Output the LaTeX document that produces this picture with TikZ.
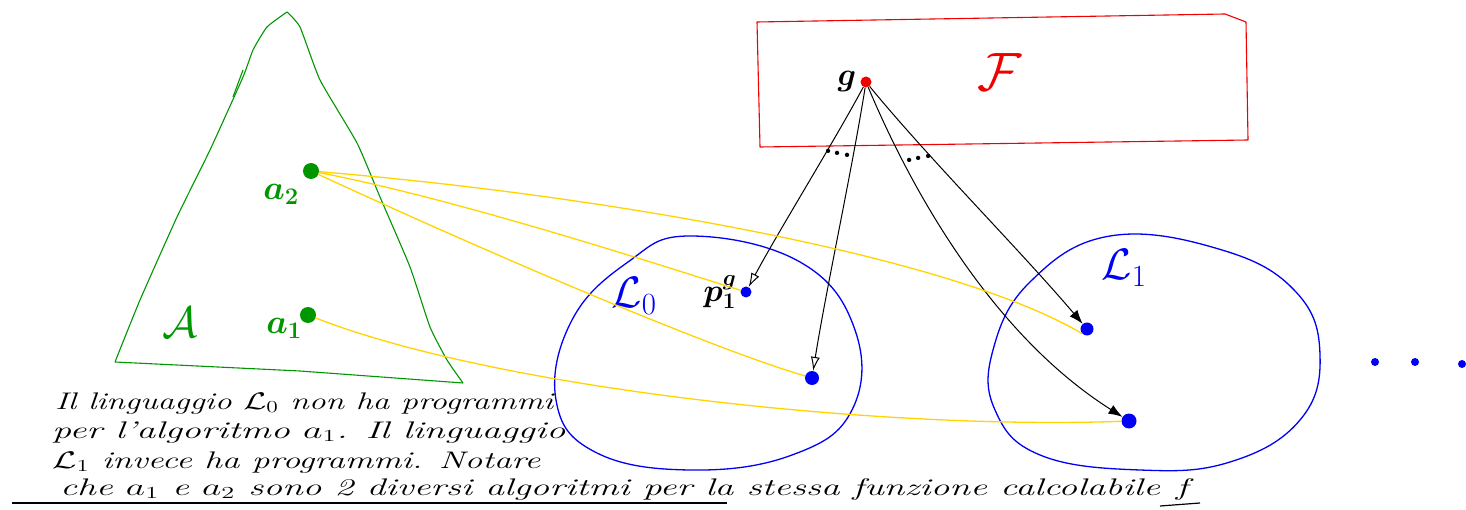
\documentclass[tikz,border=0pt]{standalone}
\usepackage{fix-cm}
\usepackage{amsmath}
\usepackage{graphicx}
\usetikzlibrary{
  arrows.meta,
  calc
}
\definecolor{algcolor}{RGB}{0, 150, 0}
\definecolor{funcolor}{RGB}{240, 0, 0}
\definecolor{langcolor}{RGB}{0, 0, 245}
\definecolor{mapcolor}{RGB}{255, 212, 0}
\newcommand{\handline}[2]{\resizebox{#1}{\height}{#2}}
\tikzset{
handtext/.style={
  font=\fontsize{24}{26}\selectfont\itshape,
  anchor=base west,
  inner sep=0pt
},
algdot/.style={
  circle,
  fill=algcolor,
  inner sep=0pt,
  minimum size=16pt
},
progdot/.style={
  circle,
  fill=langcolor,
  inner sep=0pt,
  minimum size=13pt
},
fundot/.style={
  circle,
  fill=funcolor,
  inner sep=0pt,
  minimum size=11pt
},
alglabel/.style={
  text=algcolor,
  font=\fontsize{34}{34}\selectfont\boldmath
},
biglabel/.style={
  font=\fontsize{44}{44}\selectfont
},
blacklabel/.style={
  font=\fontsize{32}{32}\selectfont\boldmath
},
setline/.style={
  draw=algcolor,
  line width=1.1pt,
  line join=round
},
langline/.style={
  draw=langcolor,
  line width=1.3pt
},
mapline/.style={
  draw=mapcolor,
  line width=1.3pt
},
progarrow/.style={
  -{Latex[open,length=14pt,width=9pt]},
  line width=1pt
},
fullarrow/.style={
  -{Latex[length=14pt,width=10pt]},
  line width=1pt
}
}

\begin{document}
\begin{tikzpicture}[x=1pt, y=-1pt]
  \useasboundingbox (0,0) rectangle (1466,510);

  % insieme degli algoritmi
  \draw[setline] plot[smooth, tension=0.3] coordinates {
    (287,12) (300,27) (320,80) (357,143) (380,197) (410,267) (430,327) (447,360) (463,383)};
  \draw[setline] (463,383) -- (300,371) -- (115,362);
  \draw[setline] plot[smooth, tension=0.3] coordinates {
    (115,362) (140,300) (177,217) (210,150) (243,77) (253,50) (267,27) (287,12)};
  \draw[setline] (243,70) -- (233,97);
  \node[biglabel, text=algcolor] (Alab) at (180,322) {$\mathcal{A}$};
  \node[algdot] (a2) at (311,171) {};
  \node[algdot] (a1) at (308,315) {};
  \node[alglabel] (a2lab) at (281,194) {$a_2$};
  \node[alglabel] (a1lab) at (284,328) {$a_1$};

  % funzioni calcolabili
  \draw[draw=funcolor, line width=1.1pt, line join=round]
    (760,147) -- (757,22) -- (1225,14) -- (1246,22) -- (1248,140) -- cycle;
  \node[biglabel, text=funcolor, font=\fontsize{54}{54}\selectfont] (Flab) at (1000,72) {$\mathcal{F}$};
  \node[fundot] (g) at (866,82) {};
  \node[blacklabel] (glab) at (847,82) {$g$};

  % linguaggi
  \draw[langline] plot[smooth cycle, tension=0.7] coordinates {
    (690,236) (800,262) (855,330) (852,410) (792,455) (690,470) (595,452) (556,400) (572,320) (628,262)};
  \draw[langline] plot[smooth cycle, tension=0.7] coordinates {
    (1110,236) (1222,250) (1296,292) (1320,355) (1300,420) (1230,462) (1140,470) (1040,455) (995,410) (993,350) (1030,282)};
  \node[biglabel, text=langcolor] (L0lab) at (634,296) {$\mathcal{L}_0$};
  \node[biglabel, text=langcolor] (L1lab) at (1124,268) {$\mathcal{L}_1$};

  \node[progdot, minimum size=11pt] (p1) at (746,292) {};
  \node[progdot, minimum size=14pt] (p2) at (812,378) {};
  \node[progdot] (q1) at (1087,329) {};
  \node[progdot, minimum size=15pt] (q2) at (1129,421) {};
  \node[blacklabel] (p1lab) at (720,292) {$p^{g}_{1}$};

  \foreach \px/\py in {1375/362, 1415/362, 1462/364}
    \node[progdot, minimum size=8pt] at (\px,\py) {};

  % programmi per g
  \draw[progarrow] (g) .. controls (835,140) and (778,232) .. (p1);
  \draw[progarrow] (g) .. controls (852,170) and (826,290) .. (p2);
  \draw[fullarrow] (g) .. controls (930,160) and (1020,250) .. (q1);
  \draw[fullarrow] (g) .. controls (905,175) and (985,330) .. (q2);
  \node[rotate=-12, font=\fontsize{30}{30}\selectfont\bfseries] (dotsL0) at (838,153) {...};
  \node[rotate=12, font=\fontsize{30}{30}\selectfont\bfseries] (dotsL1) at (919,158) {...};

  % algoritmi e programmi
  \draw[mapline] (a2) .. controls (600,195) and (950,255) .. (q1.south west);
  \draw[mapline] (a2) .. controls (460,200) and (650,262) .. (p1);
  \draw[mapline] (a2) .. controls (460,240) and (700,345) .. (p2);
  \draw[mapline] (a1) .. controls (500,390) and (887,430) .. (q2);

  % nota
  \node[handtext] (note1) at (55,409) {\handline{498pt}{Il linguaggio $\mathcal{L}_0$ non ha programmi}};
  \node[handtext] (note2) at (52,438) {\handline{513pt}{per l'algoritmo $a_1$. Il linguaggio}};
  \node[handtext] (note3) at (52,468) {\handline{488pt}{$\mathcal{L}_1$ invece ha programmi. Notare}};
  \node[handtext] (note4) at (60,495) {\handline{1135pt}{che $a_1$ e $a_2$ sono 2 diversi algoritmi per la stessa funzione calcolabile $f$}};
  \draw[line width=1.5pt] (12,503) -- (727,503);
  \draw[line width=1.2pt] (1160,506) -- (1200,503);
\end{tikzpicture}
\end{document}
